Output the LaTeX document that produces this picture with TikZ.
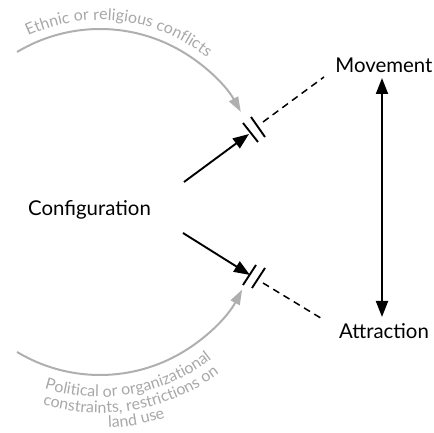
\documentclass[tikz,border=0pt]{standalone}
\usepackage{fontspec}
\setmainfont{Lato}
\usetikzlibrary{arrows.meta,decorations.text,calc}
\definecolor{arcgray}{HTML}{AFAFAF}
\definecolor{txtgray}{HTML}{A8A8A8}
\begin{document}
\begin{tikzpicture}[x=1pt,y=1pt,
  lbl/.style={font=\fontsize{20.4}{24}\selectfont, inner sep=0pt},
  blackarrow/.style={line width=1.9pt, -{Triangle[length=16pt,width=12pt]}},
  grayarrow/.style={draw=arcgray, line width=2pt, -{Triangle[length=15pt,width=10pt]}, arcgray},
  bar/.style={line width=1.9pt},
  dashline/.style={line width=1.5pt, dash pattern=on 7pt off 5pt},
  curvetext/.style={decorate, decoration={text along path, text align=center,
      text={|\fontsize{16}{18}\selectfont\color{txtgray}|#1}}}
]
\useasboundingbox (0,0) rectangle (434,433);
% labels
\node[lbl, anchor=base west] (conf) at (28,217) {Configuration};
\node[lbl, anchor=base] (mov) at (384,360) {Movement};
\node[lbl, anchor=base] (attr) at (384,94) {Attraction};
% coordinates
\coordinate (c1) at (184,251);
\coordinate (t1) at (249,299);
\coordinate (d1s) at (263,311);
\coordinate (d1e) at (324,356);
\coordinate (c2) at (183,200);
\coordinate (t2) at (250,158);
\coordinate (d2s) at (263,150);
\coordinate (d2e) at (324,113);
\coordinate (vtop) at (382,355);
\coordinate (vbot) at (382,116);
% vertical double arrow
\draw[line width=1.9pt, {Triangle[length=16pt,width=12pt]}-{Triangle[length=16pt,width=12pt]}] (vbot) -- (vtop);
% upper branch
\draw[blackarrow] (c1) -- (t1);
\draw[bar] (243,310) -- (258,291);
\draw[bar] (251,316) -- (265,296);
\draw[dashline] (d1s) -- (d1e);
% lower branch
\draw[blackarrow] (c2) -- (t2);
\draw[bar] (243,148) -- (256,168);
\draw[bar] (252,145) -- (265,165);
\draw[dashline] (d2s) -- (d2e);
% gray arcs
\draw[grayarrow] ($(100,243)+(121:161)$) arc[start angle=121, end angle=29, radius=161];
\draw[grayarrow] ($(100,219)+(-121:161)$) arc[start angle=-121, end angle=-28, radius=161];
% curved texts
\path[curvetext={Ethnic or religious conflicts}] ($(100,243)+(125:170)$) arc[start angle=125, end angle=41, radius=170];
\path[curvetext={Political or organizational}] ($(100,219)+(-125:183)$) arc[start angle=-125, end angle=-35, radius=183];
\path[curvetext={constraints, restrictions on}] ($(100,219)+(-125:199)$) arc[start angle=-125, end angle=-35, radius=199];
\path[curvetext={land use}] ($(100,219)+(-110:214)$) arc[start angle=-110, end angle=-50, radius=214];
\end{tikzpicture}
\end{document}
